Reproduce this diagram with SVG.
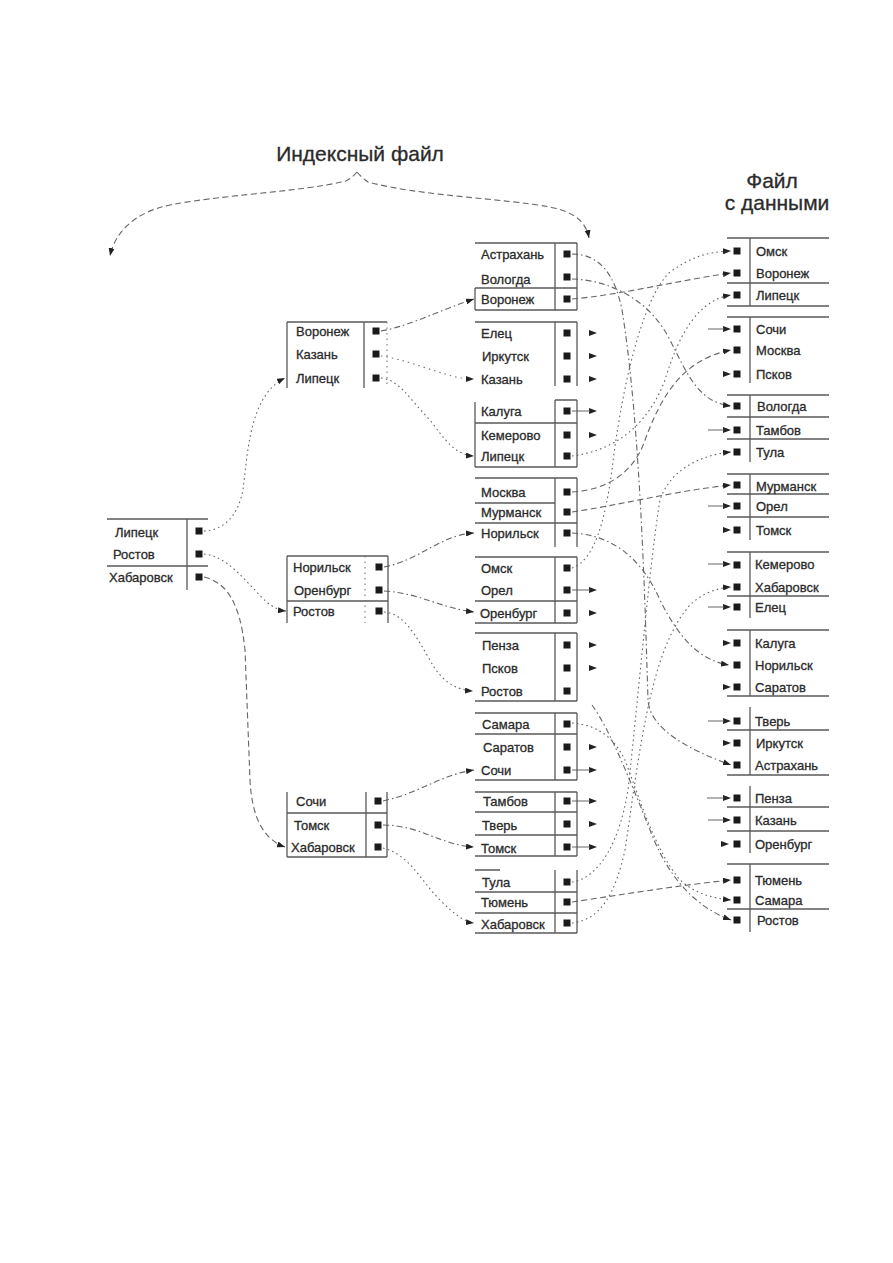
<svg xmlns="http://www.w3.org/2000/svg" xmlns:xlink="http://www.w3.org/1999/xlink" width="893" height="1263" viewBox="0 0 893 1263">
<style>
.bg{fill:#ffffff}
.ln{stroke:#5a5a5a;stroke-width:1.3;fill:none}
.lf{stroke:#777;stroke-width:1.1;fill:none;stroke-dasharray:1.5 4}
.c{stroke:#666;stroke-width:1.1;fill:none}
.dot{stroke-dasharray:1.6 3.2}
.dsh{stroke-dasharray:6 3.5}
.dd{stroke-dasharray:6 3 1.6 3}
.t{font-family:"Liberation Sans",Arial,sans-serif;font-size:13px;fill:#2b2b2b;stroke:#2b2b2b;stroke-width:0.3}
.h{font-family:"Liberation Sans",Arial,sans-serif;font-size:21px;fill:#2b2b2b;stroke:#2b2b2b;stroke-width:0.3}
.sq{fill:#1a1a1a}
.ah{fill:#222}
</style>
<defs>
<marker id="a" viewBox="0 0 8 6" refX="8" refY="3" markerWidth="8" markerHeight="6" markerUnits="userSpaceOnUse" orient="auto"><path d="M0,0 L8,3 L0,6 z" fill="#222"/></marker>
<path id="tri" d="M-8,-3 L0,0 L-8,3 z"/>
<rect id="sq" x="-3.5" y="-3.5" width="7" height="7"/>
</defs>
<rect class="bg" x="0" y="0" width="893" height="1263"/>

<g id="titles">
<text class="h" x="360" y="161" text-anchor="middle">Индексный файл</text>
<text class="h" x="772" y="188" text-anchor="middle">Файл</text>
<text class="h" x="777" y="210" text-anchor="middle">с данными</text>
</g>

<g id="connectors">
<path class="c dsh" d="M357,172 Q352,178 346,181 C 300,192 220,195 170,205 C 135,212 115,232 110,256" marker-end="url(#a)"/>
<path class="c dsh" d="M357,172 Q362,178 368,182 C 420,196 500,198 550,207 C 575,212 586,222 589,238" marker-end="url(#a)"/>
<path class="c dot" d="M204,531 C 225,530 238,515 243,490 C 248,450 250,395 285,378" marker-end="url(#a)"/>
<path class="c dot" d="M204,554 C 225,556 240,575 255,590 C 265,602 275,610 286,611" marker-end="url(#a)"/>
<path class="c dsh" d="M204,577 C 225,582 240,600 245,650 L 250,780 C 252,820 265,840 285,847" marker-end="url(#a)"/>
<path class="c dd" d="M381,331 C 410,326 440,310 474,299" marker-end="url(#a)"/>
<path class="lf" d="M381,356 C 410,360 440,375 466,379"/>
<path class="ah" d="M466,376 L474,379 L466,382 z"/>
<path class="c dot" d="M381,378 C 400,380 410,400 430,420 C 445,440 455,455 474,456" marker-end="url(#a)"/>
<path class="c dd" d="M384,567 C 420,560 440,535 474,533" marker-end="url(#a)"/>
<path class="c dd" d="M384,591 C 420,593 440,608 474,612" marker-end="url(#a)"/>
<path class="c dot" d="M384,612 C 405,614 415,635 430,660 C 440,680 455,690 473,691" marker-end="url(#a)"/>
<path class="c dd" d="M383,801 C 420,793 440,775 474,770" marker-end="url(#a)"/>
<path class="c dd" d="M383,825 C 420,825 440,845 474,847" marker-end="url(#a)"/>
<path class="c dot" d="M383,848 C 410,855 420,880 440,900 C 455,915 465,922 474,923" marker-end="url(#a)"/>
<path class="c dd" d="M572,254 C 600,254 615,275 622,310 C 640,420 645,600 648,700 C 650,730 690,750 731,765" marker-end="url(#a)"/>
<path class="c dd" d="M572,279 C 610,280 650,300 670,340 C 690,380 700,402 731,406" marker-end="url(#a)"/>
<path class="c dsh" d="M572,299 C 620,295 680,280 731,273" marker-end="url(#a)"/>
<path class="c dot" d="M572,456 C 620,450 650,420 665,380 C 680,330 700,300 731,295" marker-end="url(#a)"/>
<path class="c dsh" d="M572,492 C 610,490 635,470 645,440 C 660,400 680,360 731,350" marker-end="url(#a)"/>
<path class="c dsh" d="M572,512 C 620,505 680,490 731,485" marker-end="url(#a)"/>
<path class="c dd" d="M572,533 C 610,535 640,555 660,600 C 680,640 700,660 729,665" marker-end="url(#a)"/>
<path class="c dot" d="M572,568 C 595,560 605,520 612,470 C 620,400 640,300 670,272 C 690,258 705,252 731,251" marker-end="url(#a)"/>
<path class="c dd" d="M592,705 C 610,730 630,780 650,830 C 665,870 690,905 731,920" marker-end="url(#a)"/>
<path class="c dot" d="M572,723 C 600,725 615,740 625,760 C 640,800 655,850 680,880 C 695,893 710,898 731,900" marker-end="url(#a)"/>
<path class="c dot" d="M572,882 C 600,878 620,840 628,790 C 640,680 650,560 660,500 C 670,470 700,455 731,452" marker-end="url(#a)"/>
<path class="c dsh" d="M572,902 C 620,895 680,885 731,880" marker-end="url(#a)"/>
<path class="c dot" d="M572,923 C 600,920 615,895 625,850 C 640,750 650,650 690,605 C 700,595 715,588 731,587" marker-end="url(#a)"/>
<g class="ah">
<use xlink:href="#tri" x="597" y="333"/>
<use xlink:href="#tri" x="597" y="356"/>
<use xlink:href="#tri" x="597" y="379"/>
<use xlink:href="#tri" x="597" y="435"/>
<use xlink:href="#tri" x="597" y="613"/>
<use xlink:href="#tri" x="597" y="645"/>
<use xlink:href="#tri" x="597" y="668"/>
<use xlink:href="#tri" x="597" y="747"/>
<use xlink:href="#tri" x="597" y="824"/>
<use xlink:href="#tri" x="597" y="411"/>
<use xlink:href="#tri" x="597" y="590"/>
<use xlink:href="#tri" x="597" y="770"/>
<use xlink:href="#tri" x="597" y="801"/>
<use xlink:href="#tri" x="597" y="847"/>
</g>
<path class="c" d="M572,411 H590 M572,590 H590 M572,770 H590 M572,801 H590 M572,847 H590"/>
<g class="ah">
<use xlink:href="#tri" x="731" y="329"/>
<use xlink:href="#tri" x="731" y="374"/>
<use xlink:href="#tri" x="731" y="430"/>
<use xlink:href="#tri" x="731" y="506"/>
<use xlink:href="#tri" x="731" y="530"/>
<use xlink:href="#tri" x="731" y="564"/>
<use xlink:href="#tri" x="731" y="607"/>
<use xlink:href="#tri" x="731" y="643"/>
<use xlink:href="#tri" x="731" y="687"/>
<use xlink:href="#tri" x="731" y="721"/>
<use xlink:href="#tri" x="731" y="743"/>
<use xlink:href="#tri" x="731" y="798"/>
<use xlink:href="#tri" x="731" y="820"/>
<use xlink:href="#tri" x="729" y="844"/>
</g>
<path class="c" d="M708,329 H724 M708,430 H724 M708,506 H724 M708,564 H724 M708,607 H724 M708,721 H724 M707,798 H724 M708,820 H724"/>
</g>

<g id="node-root">
<path class="ln" d="M107,519 H208 M107,566 H208 M187,519 V590"/>
<text class="t" x="115" y="537">Липецк</text>
<text class="t" x="113" y="559">Ростов</text>
<text class="t" x="109" y="582">Хабаровск</text>
<g class="sq"><use xlink:href="#sq" x="199" y="531"/><use xlink:href="#sq" x="199" y="554"/><use xlink:href="#sq" x="199" y="577"/></g>
</g>

<g id="node-a">
<path class="ln" d="M287,322 H387 M287,322 V388 M364,322 V388"/>
<path class="lf" d="M387,322 V388"/>
<text class="t" x="296" y="336">Воронеж</text>
<text class="t" x="296" y="359">Казань</text>
<text class="t" x="296" y="383">Липецк</text>
<g class="sq"><use xlink:href="#sq" x="376" y="331"/><use xlink:href="#sq" x="376" y="354"/><use xlink:href="#sq" x="376" y="378"/></g>
</g>

<g id="node-b">
<path class="ln" d="M287,556 H388 M287,601 H388 M287,556 V623 M388,556 V623"/>
<path class="lf" d="M365,556 V623"/>
<text class="t" x="293" y="572">Норильск</text>
<text class="t" x="294" y="595">Оренбург</text>
<text class="t" x="293" y="616">Ростов</text>
<g class="sq"><use xlink:href="#sq" x="379" y="567"/><use xlink:href="#sq" x="379" y="590"/><use xlink:href="#sq" x="379" y="611"/></g>
</g>

<g id="node-c">
<path class="ln" d="M287,813 H387 M287,857 H387 M287,792 V857 M366,792 V857 M387,792 V857"/>
<text class="t" x="296" y="806">Сочи</text>
<text class="t" x="294" y="830">Томск</text>
<text class="t" x="291" y="852">Хабаровск</text>
<g class="sq"><use xlink:href="#sq" x="378" y="801"/><use xlink:href="#sq" x="378" y="825"/><use xlink:href="#sq" x="378" y="847"/></g>
</g>

<g id="leaf-1">
<path class="ln" d="M475,243 H577 M475,288 H577 M475,310 H577 M555,243 V310 M577,243 V310 M475,288 V310"/>
<text class="t" x="481" y="259">Астрахань</text>
<text class="t" x="481" y="284">Вологда</text>
<text class="t" x="481" y="304">Воронеж</text>
<g class="sq"><use xlink:href="#sq" x="567" y="254"/><use xlink:href="#sq" x="567" y="277"/><use xlink:href="#sq" x="567" y="299"/></g>
</g>

<g id="leaf-2">
<path class="ln" d="M475,322 H577 M555,322 V386 M577,322 V386"/>
<text class="t" x="481" y="338">Елец</text>
<text class="t" x="482" y="361">Иркутск</text>
<text class="t" x="481" y="384">Казань</text>
<g class="sq"><use xlink:href="#sq" x="567" y="333"/><use xlink:href="#sq" x="567" y="356"/><use xlink:href="#sq" x="567" y="379"/></g>
</g>

<g id="leaf-3">
<path class="ln" d="M555,400 H577 M475,423 H577 M475,467 H577 M555,400 V467 M577,400 V467 M475,402 V467"/>
<text class="t" x="481" y="416">Калуга</text>
<text class="t" x="481" y="440">Кемерово</text>
<text class="t" x="481" y="461">Липецк</text>
<g class="sq"><use xlink:href="#sq" x="567" y="411"/><use xlink:href="#sq" x="567" y="435"/><use xlink:href="#sq" x="567" y="456"/></g>
</g>

<g id="leaf-4">
<path class="ln" d="M475,478 H577 M475,503 H555 M475,523 H577 M555,478 V547 M577,478 V547"/>
<text class="t" x="481" y="497">Москва</text>
<text class="t" x="481" y="517">Мурманск</text>
<text class="t" x="481" y="538">Норильск</text>
<g class="sq"><use xlink:href="#sq" x="567" y="492"/><use xlink:href="#sq" x="567" y="512"/><use xlink:href="#sq" x="567" y="533"/></g>
</g>

<g id="leaf-5">
<path class="ln" d="M475,557 H577 M475,601 H577 M475,623 H577 M555,557 V623 M577,557 V623"/>
<text class="t" x="481" y="573">Омск</text>
<text class="t" x="481" y="595">Орел</text>
<text class="t" x="480" y="618">Оренбург</text>
<g class="sq"><use xlink:href="#sq" x="567" y="568"/><use xlink:href="#sq" x="567" y="590"/><use xlink:href="#sq" x="567" y="613"/></g>
</g>

<g id="leaf-6">
<path class="ln" d="M475,633 H577 M475,701 H577 M555,633 V701 M577,633 V701"/>
<text class="t" x="482" y="650">Пенза</text>
<text class="t" x="482" y="673">Псков</text>
<text class="t" x="481" y="696">Ростов</text>
<g class="sq"><use xlink:href="#sq" x="567" y="645"/><use xlink:href="#sq" x="567" y="668"/><use xlink:href="#sq" x="567" y="691"/></g>
</g>

<g id="leaf-7">
<path class="ln" d="M475,713 H577 M475,734 H577 M475,780 H577 M555,713 V780 M577,713 V780"/>
<text class="t" x="482" y="729">Самара</text>
<text class="t" x="483" y="752">Саратов</text>
<text class="t" x="481" y="775">Сочи</text>
<g class="sq"><use xlink:href="#sq" x="567" y="724"/><use xlink:href="#sq" x="567" y="747"/><use xlink:href="#sq" x="567" y="770"/></g>
</g>

<g id="leaf-8">
<path class="ln" d="M475,792 H577 M475,812 H577 M475,835 H577 M475,856 H577 M555,792 V856 M577,792 V856"/>
<text class="t" x="483" y="806">Тамбов</text>
<text class="t" x="482" y="830">Тверь</text>
<text class="t" x="481" y="853">Томск</text>
<g class="sq"><use xlink:href="#sq" x="567" y="801"/><use xlink:href="#sq" x="567" y="824"/><use xlink:href="#sq" x="567" y="847"/></g>
</g>

<g id="leaf-9">
<path class="ln" d="M475,870 H500 M475,892 H577 M475,913 H577 M475,933 H577 M555,870 V933 M577,870 V933"/>
<text class="t" x="482" y="887">Тула</text>
<text class="t" x="481" y="907">Тюмень</text>
<text class="t" x="481" y="929">Хабаровск</text>
<g class="sq"><use xlink:href="#sq" x="567" y="882"/><use xlink:href="#sq" x="567" y="902"/><use xlink:href="#sq" x="567" y="923"/></g>
</g>

<g id="data-1">
<path class="ln" d="M727,238 H829 M727,283 H829 M727,306 H829 M750,238 V306"/>
<text class="t" x="756" y="256">Омск</text>
<text class="t" x="756" y="278">Воронеж</text>
<text class="t" x="756" y="300">Липецк</text>
<g class="sq"><use xlink:href="#sq" x="737" y="251"/><use xlink:href="#sq" x="737" y="273"/><use xlink:href="#sq" x="737" y="295"/></g>
</g>

<g id="data-2">
<path class="ln" d="M727,317 H829 M750,317 V383"/>
<text class="t" x="756" y="334">Сочи</text>
<text class="t" x="756" y="355">Москва</text>
<text class="t" x="756" y="379">Псков</text>
<g class="sq"><use xlink:href="#sq" x="737" y="329"/><use xlink:href="#sq" x="737" y="350"/><use xlink:href="#sq" x="737" y="374"/></g>
</g>

<g id="data-3">
<path class="ln" d="M727,395 H829 M727,417 H829 M727,439 H829 M750,395 V462"/>
<text class="t" x="757" y="411">Вологда</text>
<text class="t" x="756" y="435">Тамбов</text>
<text class="t" x="756" y="457">Тула</text>
<g class="sq"><use xlink:href="#sq" x="737" y="406"/><use xlink:href="#sq" x="737" y="430"/><use xlink:href="#sq" x="737" y="452"/></g>
</g>

<g id="data-4">
<path class="ln" d="M727,474 H829 M727,494 H829 M727,517 H829 M750,474 V540"/>
<text class="t" x="756" y="491">Мурманск</text>
<text class="t" x="756" y="511">Орел</text>
<text class="t" x="756" y="535">Томск</text>
<g class="sq"><use xlink:href="#sq" x="737" y="485"/><use xlink:href="#sq" x="737" y="506"/><use xlink:href="#sq" x="737" y="530"/></g>
</g>

<g id="data-5">
<path class="ln" d="M727,552 H829 M727,596 H829 M750,552 V618"/>
<text class="t" x="755" y="569">Кемерово</text>
<text class="t" x="755" y="592">Хабаровск</text>
<text class="t" x="755" y="612">Елец</text>
<g class="sq"><use xlink:href="#sq" x="737" y="565"/><use xlink:href="#sq" x="737" y="587"/><use xlink:href="#sq" x="737" y="607"/></g>
</g>

<g id="data-6">
<path class="ln" d="M727,630 H829 M727,696 H829 M750,630 V696"/>
<text class="t" x="755" y="648">Калуга</text>
<text class="t" x="755" y="670">Норильск</text>
<text class="t" x="755" y="692">Саратов</text>
<g class="sq"><use xlink:href="#sq" x="737" y="643"/><use xlink:href="#sq" x="737" y="665"/><use xlink:href="#sq" x="737" y="687"/></g>
</g>

<g id="data-7">
<path class="ln" d="M727,730 H829 M727,775 H829 M750,707 V775"/>
<text class="t" x="755" y="726">Тверь</text>
<text class="t" x="756" y="748">Иркутск</text>
<text class="t" x="755" y="770">Астрахань</text>
<g class="sq"><use xlink:href="#sq" x="737" y="721"/><use xlink:href="#sq" x="737" y="743"/><use xlink:href="#sq" x="737" y="765"/></g>
</g>

<g id="data-8">
<path class="ln" d="M727,807 H829 M727,831 H829 M750,786 V853"/>
<text class="t" x="755" y="803">Пенза</text>
<text class="t" x="755" y="825">Казань</text>
<text class="t" x="755" y="849">Оренбург</text>
<g class="sq"><use xlink:href="#sq" x="737" y="798"/><use xlink:href="#sq" x="737" y="820"/><use xlink:href="#sq" x="737" y="844"/></g>
</g>

<g id="data-9">
<path class="ln" d="M727,864 H829 M727,909 H829 M750,864 V932"/>
<text class="t" x="755" y="885">Тюмень</text>
<text class="t" x="755" y="905">Самара</text>
<text class="t" x="757" y="925">Ростов</text>
<g class="sq"><use xlink:href="#sq" x="737" y="880"/><use xlink:href="#sq" x="737" y="900"/><use xlink:href="#sq" x="737" y="920"/></g>
</g>
</svg>
